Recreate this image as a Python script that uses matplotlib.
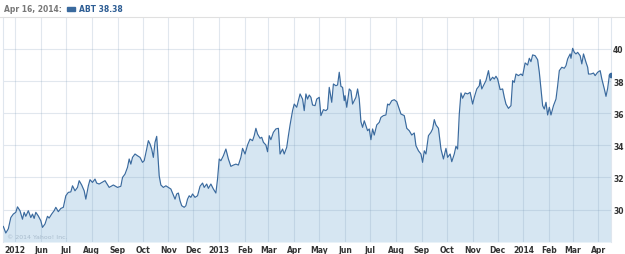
import matplotlib
matplotlib.use('Agg')
import matplotlib.pyplot as plt
from matplotlib.patches import Rectangle
from matplotlib.lines import Line2D
import pandas as pd

# ABT daily close (about every 2-3 days)
dates = [
    '2012-04-17', '2012-04-20', '2012-04-23', '2012-04-26', '2012-04-29', '2012-05-02', '2012-05-04', '2012-05-07',
    '2012-05-10', '2012-05-12', '2012-05-14', '2012-05-17', '2012-05-20', '2012-05-22', '2012-05-24', '2012-05-26',
    '2012-05-29', '2012-06-01', '2012-06-03', '2012-06-06', '2012-06-09', '2012-06-11', '2012-06-14', '2012-06-17',
    '2012-06-19', '2012-06-22', '2012-06-25', '2012-06-28', '2012-07-01', '2012-07-04', '2012-07-07', '2012-07-09',
    '2012-07-12', '2012-07-15', '2012-07-17', '2012-07-20', '2012-07-23', '2012-07-25', '2012-07-28', '2012-07-30',
    '2012-08-02', '2012-08-05', '2012-08-07', '2012-08-10', '2012-08-17', '2012-08-22', '2012-08-27', '2012-09-01',
    '2012-09-05', '2012-09-07', '2012-09-10', '2012-09-13', '2012-09-15', '2012-09-17', '2012-09-19', '2012-09-22',
    '2012-09-25', '2012-09-28', '2012-10-01', '2012-10-03', '2012-10-06', '2012-10-08', '2012-10-10', '2012-10-12',
    '2012-10-14', '2012-10-16', '2012-10-18', '2012-10-19', '2012-10-21', '2012-10-23', '2012-10-26', '2012-10-29',
    '2012-11-01', '2012-11-04', '2012-11-06', '2012-11-09', '2012-11-11', '2012-11-13', '2012-11-15', '2012-11-17',
    '2012-11-20', '2012-11-22', '2012-11-24', '2012-11-26', '2012-11-28', '2012-11-30', '2012-12-03', '2012-12-06',
    '2012-12-09', '2012-12-12', '2012-12-14', '2012-12-17', '2012-12-19', '2012-12-22', '2012-12-25', '2012-12-28',
    '2012-12-30', '2013-01-01', '2013-01-03', '2013-01-06', '2013-01-09', '2013-01-12', '2013-01-15', '2013-01-18',
    '2013-01-21', '2013-01-24', '2013-01-27', '2013-01-29', '2013-02-01', '2013-02-04', '2013-02-07', '2013-02-10',
    '2013-02-12', '2013-02-14', '2013-02-16', '2013-02-19', '2013-02-21', '2013-02-23', '2013-02-26', '2013-02-28',
    '2013-03-02', '2013-03-04', '2013-03-07', '2013-03-10', '2013-03-13', '2013-03-15', '2013-03-18', '2013-03-20',
    '2013-03-23', '2013-03-25', '2013-03-27', '2013-03-30', '2013-04-01', '2013-04-04', '2013-04-06', '2013-04-08',
    '2013-04-11', '2013-04-13', '2013-04-15', '2013-04-17', '2013-04-19', '2013-04-21', '2013-04-23', '2013-04-26',
    '2013-04-28', '2013-05-01', '2013-05-03', '2013-05-06', '2013-05-09', '2013-05-11', '2013-05-13', '2013-05-16',
    '2013-05-18', '2013-05-21', '2013-05-23', '2013-05-25', '2013-05-27', '2013-05-29', '2013-05-31', '2013-06-01',
    '2013-06-03', '2013-06-06', '2013-06-08', '2013-06-10', '2013-06-12', '2013-06-14', '2013-06-16', '2013-06-18',
    '2013-06-20', '2013-06-22', '2013-06-24', '2013-06-26', '2013-06-28', '2013-06-30', '2013-07-02', '2013-07-04',
    '2013-07-06', '2013-07-09', '2013-07-12', '2013-07-14', '2013-07-17', '2013-07-20', '2013-07-22', '2013-07-24',
    '2013-07-27', '2013-07-30', '2013-08-02', '2013-08-05', '2013-08-07', '2013-08-11', '2013-08-14', '2013-08-17',
    '2013-08-20', '2013-08-23', '2013-08-25', '2013-08-28', '2013-08-31', '2013-09-02', '2013-09-04', '2013-09-06',
    '2013-09-09', '2013-09-12', '2013-09-14', '2013-09-16', '2013-09-18', '2013-09-21', '2013-09-24', '2013-09-27',
    '2013-09-30', '2013-10-02', '2013-10-05', '2013-10-07', '2013-10-10', '2013-10-12', '2013-10-14', '2013-10-16',
    '2013-10-18', '2013-10-20', '2013-10-23', '2013-10-26', '2013-10-29', '2013-11-01', '2013-11-03', '2013-11-06',
    '2013-11-09', '2013-11-10', '2013-11-12', '2013-11-15', '2013-11-17', '2013-11-20', '2013-11-22', '2013-11-25',
    '2013-11-27', '2013-11-29', '2013-12-01', '2013-12-04', '2013-12-07', '2013-12-09', '2013-12-11', '2013-12-14',
    '2013-12-17', '2013-12-19', '2013-12-21', '2013-12-23', '2013-12-26', '2013-12-29', '2013-12-31', '2014-01-03',
    '2014-01-06', '2014-01-08', '2014-01-10', '2014-01-12', '2014-01-15', '2014-01-18', '2014-01-20', '2014-01-22',
    '2014-01-24', '2014-01-26', '2014-01-28', '2014-01-30', '2014-02-01', '2014-02-03', '2014-02-06', '2014-02-09',
    '2014-02-11', '2014-02-13', '2014-02-16', '2014-02-19', '2014-02-21', '2014-02-23', '2014-02-26', '2014-02-27',
    '2014-03-01', '2014-03-03', '2014-03-05', '2014-03-07', '2014-03-10', '2014-03-12', '2014-03-14', '2014-03-17',
    '2014-03-19', '2014-03-20', '2014-03-23', '2014-03-26', '2014-03-28', '2014-03-31', '2014-04-03', '2014-04-05',
    '2014-04-08', '2014-04-10', '2014-04-12', '2014-04-14', '2014-04-16',
]
prices = [
    28.95, 28.54, 28.80, 29.50, 29.72, 29.83, 30.17, 29.93,
    29.40, 29.83, 29.58, 29.93, 29.50, 29.72, 29.45, 29.83,
    29.60, 29.30, 28.89, 29.10, 29.58, 29.47, 29.72, 29.93,
    30.14, 29.87, 30.07, 30.14, 30.86, 31.07, 31.10, 31.48,
    31.17, 31.38, 31.80, 31.53, 31.17, 30.65, 31.48, 31.86,
    31.69, 31.90, 31.65, 31.59, 31.80, 31.38, 31.53, 31.38,
    31.45, 32.00, 32.21, 32.63, 33.15, 32.83, 33.25, 33.46,
    33.35, 33.25, 32.94, 33.04, 33.77, 34.29, 34.08, 33.77,
    33.25, 34.19, 34.56, 33.77, 32.10, 31.53, 31.38, 31.48,
    31.38, 31.28, 31.03, 30.65, 30.97, 31.03, 30.55, 30.24,
    30.14, 30.24, 30.65, 30.86, 30.76, 30.97, 30.76, 30.86,
    31.45, 31.65, 31.38, 31.59, 31.32, 31.59, 31.28, 31.03,
    31.90, 33.15, 33.04, 33.35, 33.77, 33.15, 32.69, 32.77,
    32.83, 32.77, 33.25, 33.81, 33.46, 34.02, 34.39, 34.29,
    34.60, 35.06, 34.70, 34.44, 34.50, 34.19, 34.02, 33.60,
    34.60, 34.35, 34.81, 35.02, 35.06, 33.46, 33.77, 33.46,
    33.88, 34.60, 35.27, 36.16, 36.57, 36.37, 36.78, 37.20,
    36.88, 36.16, 37.20, 36.88, 37.13, 36.99, 36.51, 36.47,
    36.88, 36.99, 35.85, 36.22, 36.16, 36.26, 37.61, 36.68,
    37.82, 37.71, 37.76, 38.55, 37.67, 37.61, 36.78, 37.09,
    36.37, 37.51, 37.40, 36.57, 36.78, 36.99, 37.51, 36.88,
    35.47, 35.12, 35.53, 35.22, 34.91, 35.02, 34.35, 35.02,
    34.64, 35.27, 35.43, 35.74, 35.85, 35.89, 36.57, 36.51,
    36.78, 36.84, 36.72, 36.26, 35.95, 35.85, 35.06, 34.91,
    34.64, 34.77, 33.98, 33.66, 33.46, 32.94, 33.66, 33.46,
    34.60, 34.81, 35.02, 35.60, 35.27, 35.06, 33.77, 33.15,
    33.81, 33.25, 33.46, 32.98, 33.46, 33.94, 33.77, 35.95,
    37.26, 36.93, 37.26, 37.20, 37.30, 36.57, 36.99, 37.51,
    37.71, 38.09, 37.51, 37.82, 38.03, 38.65, 38.03, 38.24,
    38.13, 38.30, 38.13, 37.47, 37.51, 36.99, 36.57, 36.30,
    36.47, 38.03, 37.92, 38.44, 38.34, 38.44, 38.34, 39.13,
    39.00, 39.42, 39.21, 39.63, 39.58, 39.33, 38.55, 37.51,
    36.47, 36.26, 36.68, 35.89, 36.37, 35.89, 36.47, 36.88,
    37.71, 38.65, 38.86, 38.80, 38.96, 39.38, 39.69, 39.42,
    40.04, 39.79, 39.69, 39.79, 39.58, 39.07, 39.69, 39.17,
    38.86, 38.44, 38.44, 38.50, 38.34, 38.55, 38.65, 38.13,
    37.51, 37.05, 37.55, 38.34, 38.38,
]

tick_dates = ['2012-05-01', '2012-06-01', '2012-07-01', '2012-08-01', '2012-09-01', '2012-10-01',
              '2012-11-01', '2012-12-01', '2013-01-01', '2013-02-01', '2013-03-01', '2013-04-01',
              '2013-05-01', '2013-06-01', '2013-07-01', '2013-08-01', '2013-09-01', '2013-10-01',
              '2013-11-01', '2013-12-01', '2014-01-01', '2014-02-01', '2014-03-01', '2014-04-01']
tick_labels = ['2012', 'Jun', 'Jul', 'Aug', 'Sep', 'Oct', 'Nov', 'Dec', '2013', 'Feb', 'Mar', 'Apr',
               'May', 'Jun', 'Jul', 'Aug', 'Sep', 'Oct', 'Nov', 'Dec', '2014', 'Feb', 'Mar', 'Apr']
y_ticks = [30, 32, 34, 36, 38, 40]

symbol = 'ABT'
header_date = 'Apr 16, 2014:'

line_color = '#3a6a9e'
fill_color = '#d6e6f2'
grid_color = '#7896b4'
label_color = '#333333'

x = pd.to_datetime(dates)
xt = pd.to_datetime(tick_dates)
y_min, y_max = 27.98, 41.99

fig = plt.figure(figsize=(6.25, 2.55), dpi=100)
ax = fig.add_axes([0.0053, 0.047, 0.9723, 0.8824])

ax.fill_between(x, prices, y_min, color=fill_color, lw=0, zorder=1)
for t in xt:
    ax.axvline(t, color=grid_color, alpha=0.22, lw=0.8, zorder=2)
for v in y_ticks:
    ax.axhline(v, color=grid_color, alpha=0.22, lw=0.8, zorder=2)
ax.plot(x, prices, color=line_color, lw=0.85, zorder=3)
ax.plot(x[-1:], prices[-1:], 'o', ms=3, color=line_color, zorder=4)

ax.set_xlim(x[0], x[-1])
ax.set_ylim(y_min, y_max)
ax.set_xticks(xt)
ax.set_xticklabels(tick_labels)
ax.yaxis.tick_right()
ax.set_yticks(y_ticks)
ax.tick_params(length=0, labelsize=5.5, colors=label_color)
ax.tick_params(axis='x', pad=2.5)
ax.tick_params(axis='y', pad=1.5)
for lab in ax.get_xticklabels() + ax.get_yticklabels():
    lab.set_fontweight('bold')

for side in ['top', 'bottom']:
    ax.spines[side].set_visible(False)
for side in ['left', 'right']:
    ax.spines[side].set_color('#dfe6ee')
    ax.spines[side].set_linewidth(0.8)

ax.text(0.006, 0.012, '\u00a9 2014 Yahoo! Inc.', transform=ax.transAxes,
        fontsize=4.5, color='#a9bccd', va='bottom', ha='left', zorder=5)

# header strip
fig.add_artist(Line2D([0, 1], [1 - 17.5 / 255] * 2, color='#e0e0e0', lw=0.8))
fig.text(0.0064, 1 - 10 / 255, header_date, fontsize=5.5, fontweight='bold',
         color='#777777', va='center', ha='left')
fig.add_artist(Rectangle((67 / 625, 1 - 12 / 255), 8 / 625, 4 / 255,
                         color=line_color, transform=fig.transFigure))
fig.text(79 / 625, 1 - 10 / 255, f'{symbol} {prices[-1]:.2f}', fontsize=5.5,
         fontweight='bold', color='#2d5d94', va='center', ha='left')

fig.savefig('out.png', dpi=100)
